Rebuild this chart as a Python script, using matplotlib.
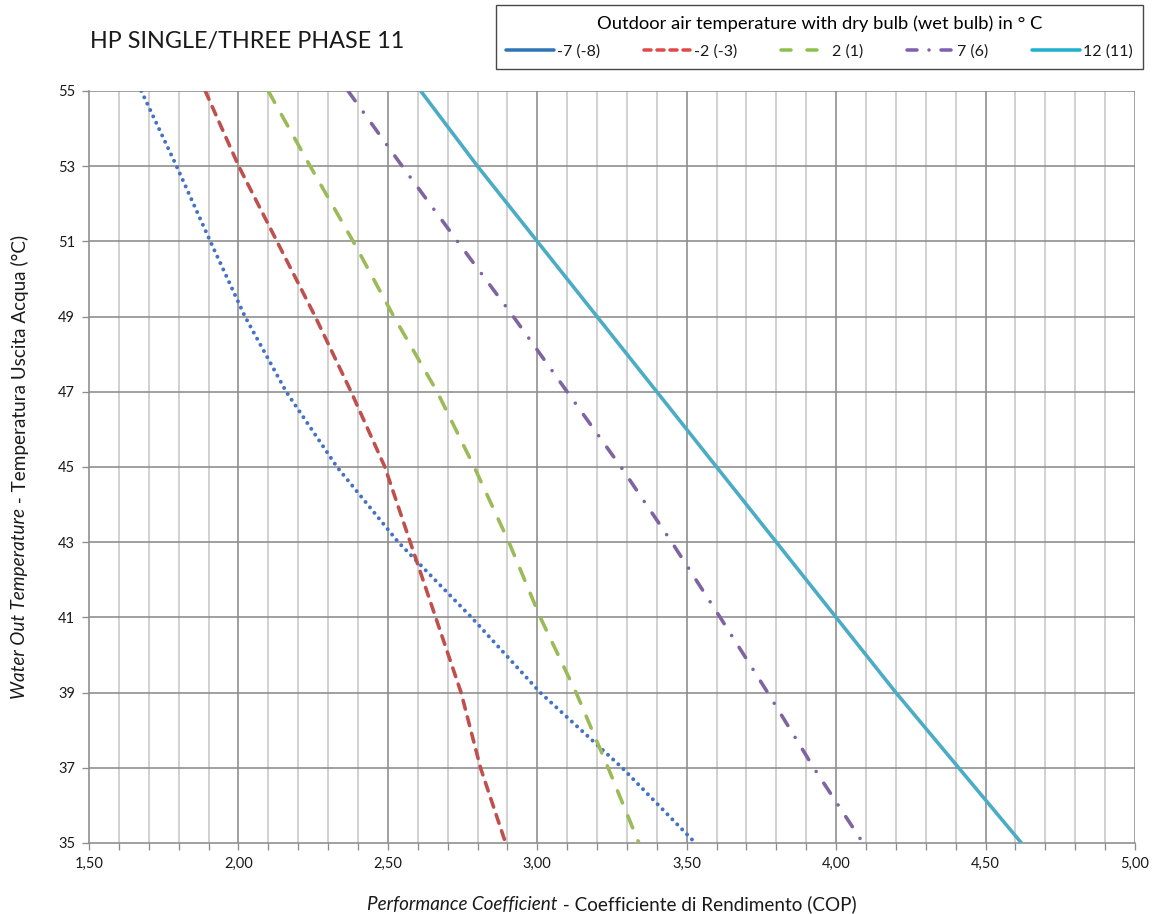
import matplotlib
matplotlib.use("Agg")
import matplotlib.pyplot as plt
from matplotlib.lines import Line2D
import numpy as np

plt.rcParams['font.family'] = ['Lato', 'DejaVu Sans']
plt.rcParams['lines.scale_dashes'] = False

# Data: water out temperature (°C) vs COP for each outdoor temperature
water_temp = [55, 53, 51, 49, 47, 45, 43, 41, 39, 37, 35]
cop_m7 = [1.675, 1.793, 1.906, 2.022, 2.16, 2.33, 2.535, 2.78, 3.01, 3.284, 3.529]
cop_m2 = [1.889, 2.001, 2.129, 2.257, 2.377, 2.49, 2.575, 2.66, 2.745, 2.81, 2.894]
cop_2 = [2.10, 2.24, 2.384, 2.52, 2.665, 2.789, 2.905, 3.01, 3.13, 3.237, 3.34]
cop_7 = [2.367, 2.548, 2.733, 2.92, 3.10, 3.28, 3.45, 3.612, 3.771, 3.925, 4.09]
cop_12 = [2.61, 2.80, 3.00, 3.20, 3.40, 3.60, 3.80, 4.00, 4.20, 4.41, 4.62]
series_labels = ["-7 (-8)", "-2 (-3)", "2 (1)", "7 (6)", "12 (11)"]

x_ticks = [1.5, 2.0, 2.5, 3.0, 3.5, 4.0, 4.5, 5.0]
y_ticks = [35, 37, 39, 41, 43, 45, 47, 49, 51, 53, 55]

title = "HP SINGLE/THREE PHASE 11"
legend_title = "Outdoor air temperature with dry bulb (wet bulb) in ° C"

W, H = 1156, 914
fig = plt.figure(figsize=(W / 100, H / 100), dpi=100)
ax = fig.add_axes([89 / W, 1 - 843 / H, (1135 - 89) / W, (843 - 91) / H])

pt = 0.72  # points per pixel

# grid
minor_x = np.round(np.arange(1.6, 5.0, 0.1), 2)
for xv in minor_x:
    if abs(xv * 2 - round(xv * 2)) > 1e-6:
        ax.axvline(xv, color='#c8c8c8', lw=1.6 * pt, zorder=1)
for xv in x_ticks[1:]:
    ax.axvline(xv, color='#8c8c8c', lw=1.6 * pt, zorder=1)
for yv in y_ticks[1:]:
    ax.axhline(yv, color='#8c8c8c', lw=1.6 * pt, zorder=1)

# series
ax.plot(cop_m7, water_temp, color='#4472C4', lw=4.0 * pt, dashes=(0.01, 7 * pt),
        dash_capstyle='round', zorder=3)
ax.plot(cop_m2, water_temp, color='#C0504D', lw=3.6 * pt, dashes=(9 * pt, 8 * pt),
        dash_capstyle='round', zorder=3)
ax.plot(cop_2, water_temp, color='#9BBB59', lw=3.6 * pt, dashes=(13 * pt, 14 * pt),
        dash_capstyle='round', zorder=3)
ax.plot(cop_7, water_temp, color='#8064A2', lw=3.6 * pt,
        dashes=(12 * pt, 14 * pt, 0.01, 14 * pt), dash_capstyle='round', zorder=3)
ax.plot(cop_12, water_temp, color='#4BACC6', lw=3.6 * pt, solid_capstyle='butt', zorder=3)

ax.set_xlim(1.5, 5.0)
ax.set_ylim(35, 55)
ax.set_xticks(x_ticks)
ax.set_xticks(np.round(np.arange(1.5, 5.01, 0.1), 2), minor=True)
ax.set_yticks(y_ticks)
ax.set_xticklabels([f"{v:.2f}".replace('.', ',') for v in x_ticks])
ax.set_yticklabels([str(v) for v in y_ticks])
ax.tick_params(axis='both', which='both', direction='out', color='#8c8c8c',
               width=1.3 * pt, labelsize=10.5, labelcolor='#1a1a1a')
ax.tick_params(axis='x', which='both', length=5, pad=5)
ax.tick_params(axis='y', which='both', length=5, pad=5)
for s in ['top', 'right']:
    ax.spines[s].set_visible(False)
for s in ['left', 'bottom']:
    ax.spines[s].set_color('#8c8c8c')
    ax.spines[s].set_linewidth(1.6 * pt)

# title
fig.text(90 / W, 1 - 48 / H, title, fontsize=16.8, color='#1a1a1a', ha='left', va='baseline')

# legend
handles = [
    Line2D([], [], color='#2E75B6', lw=3.5 * pt, solid_capstyle='round'),
    Line2D([], [], color='#E04A4A', lw=3.5 * pt, dashes=(7 * pt, 6 * pt), dash_capstyle='round'),
    Line2D([], [], color='#8DC04A', lw=3.5 * pt, dashes=(10 * pt, 16 * pt), dash_capstyle='round'),
    Line2D([], [], color='#7F5FB0', lw=3.5 * pt, dashes=(10 * pt, 12 * pt, 0.01, 12 * pt),
           dash_capstyle='round'),
    Line2D([], [], color='#1FAFCF', lw=3.5 * pt, solid_capstyle='round'),
]
leg = fig.legend(handles, series_labels, title=legend_title, ncol=5,
                 loc='upper left', bbox_to_anchor=(496 / W, 1 - 5 / H),
                 frameon=True, fancybox=False, edgecolor='#1a1a1a', fontsize=11.5,
                 title_fontsize=13.2, handlelength=3.0, handletextpad=0.15,
                 columnspacing=2.75, borderpad=0.65, labelspacing=0.3, borderaxespad=0)
leg.get_frame().set_linewidth(1.0)
leg._legend_box.sep = 9
for t in leg.get_texts():
    t.set_color('#1a1a1a')

# axis labels composed of italic + regular parts
fig.canvas.draw()
renderer = fig.canvas.get_renderer()


def mixed_label(x_px, y_px, parts, rotation=0, size=13.6):
    texts = []
    for s, style in parts:
        texts.append(fig.text(0, 0, s, fontsize=size, style=style, color='#1a1a1a',
                              rotation=rotation, ha='left', va='center',
                              rotation_mode='anchor'))
    lengths = []
    for t in texts:
        bb = t.get_window_extent(renderer)
        lengths.append(bb.width if rotation == 0 else bb.height)
    total = sum(lengths)
    pos = -total / 2
    for t, L in zip(texts, lengths):
        if rotation == 0:
            t.set_position(((x_px + pos) / W, 1 - y_px / H))
        else:
            t.set_position((x_px / W, 1 - (y_px - pos) / H))
        pos += L


mixed_label(612, 904, [("Performance Coefficient", 'italic'),
                       (" - Coefficiente di Rendimento (COP)", 'normal')])
mixed_label(20, 467, [("Water Out Temperature", 'italic'),
                      (" - Temperatura Uscita Acqua (°C)", 'normal')], rotation=90)

fig.savefig("out.png", dpi=100)
